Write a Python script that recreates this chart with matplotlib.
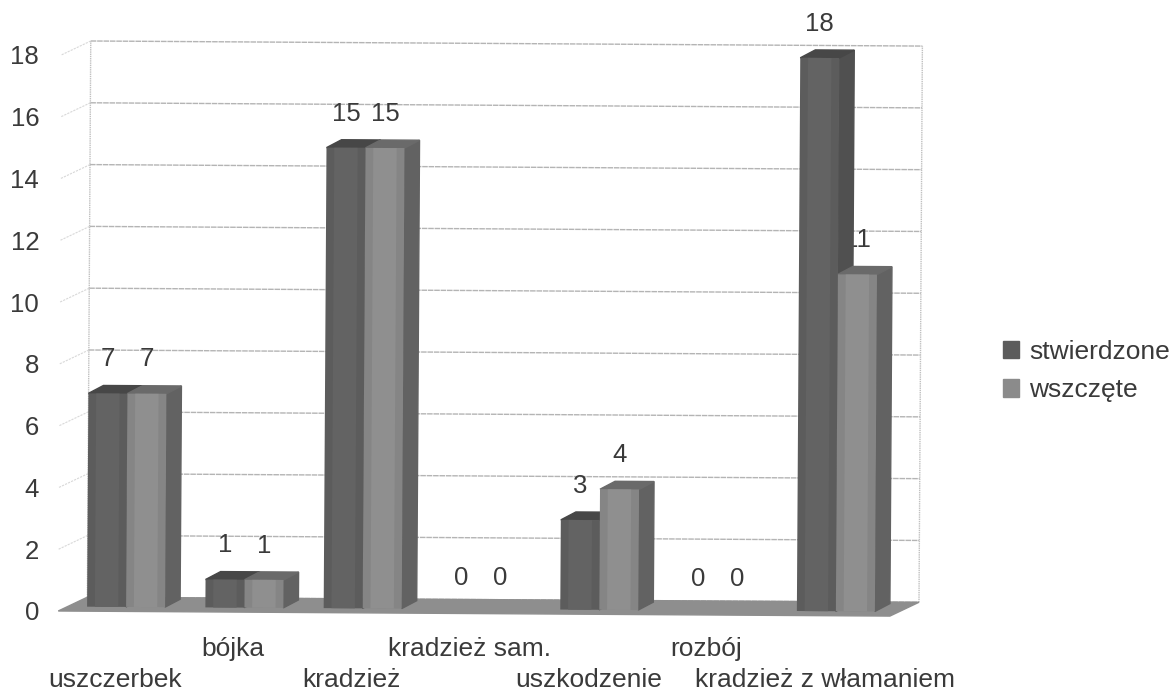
#!/usr/bin/env python3

import matplotlib
matplotlib.use("Agg")
import matplotlib.pyplot as plt
from matplotlib.patches import Patch
from matplotlib.transforms import Affine2D

plt.rcParams["font.family"] = ["Liberation Sans", "DejaVu Sans"]

# === DATA ===
categories = ["uszczerbek", "bójka", "kradzież", "kradzież sam.",
              "uszkodzenie", "rozbój", "kradzież z włamaniem"]
stwierdzone = [7, 1, 15, 0, 3, 0, 18]
wszczete = [7, 1, 15, 0, 4, 0, 11]
y_ticks = [0, 2, 4, 6, 8, 10, 12, 14, 16, 18]

# === PAGE GEOMETRY (pixels of the scan) ===
W, H = 1171, 692
LEFT, RIGHT, BASE, TOP = 55.9, 884.0, 611.0, 54.8
PX_X = (RIGHT - LEFT) / 7.0
PX_Y = (BASE - TOP) / 18.0
TILT = -0.35  # the scan is slightly rotated

fig = plt.figure(figsize=(W / 100, H / 100), dpi=100)
ax = fig.add_axes([LEFT / W, (H - BASE) / H, (RIGHT - LEFT) / W, (BASE - TOP) / H])
ax.set_xlim(-0.5, 6.5)
ax.set_ylim(0, 18)
for s in ax.spines.values():
    s.set_visible(False)
ax.patch.set_alpha(0)

tr = ax.transData + Affine2D().rotate_deg_around(58, H - BASE, TILT)


def dx(px):
    return px / PX_X


def dy(px):
    return px / PX_Y


TEXT = "#3a3a3a"
GRID = "#b4b4b4"
WALL_X, WALL_Y = dx(29), dy(14)
FLOOR_L, FLOOR_R = -0.48, 6.55

# === WALL, GRID, FLOOR ===
for t in y_ticks:
    ax.plot([FLOOR_L + WALL_X, FLOOR_R + WALL_X], [t + WALL_Y, t + WALL_Y], color=GRID,
            lw=1.0, ls=(0, (4, 0.6)), transform=tr, zorder=1, clip_on=False)
    if t > 0:
        ax.plot([FLOOR_L, FLOOR_L + WALL_X], [t, t + WALL_Y], color="#d8d8d8", lw=0.8,
                ls=(0, (2, 1)), transform=tr, zorder=1, clip_on=False)
for x in [FLOOR_L + WALL_X, FLOOR_R + WALL_X]:
    ax.plot([x, x], [WALL_Y, 18 + WALL_Y], color="#c0c0c0", lw=1.0, ls=(0, (1, 0.6)),
            transform=tr, zorder=1, clip_on=False)

ax.fill([FLOOR_L, FLOOR_R, FLOOR_R + WALL_X, FLOOR_L + WALL_X], [0, 0, WALL_Y, WALL_Y],
        color="#8e8e8e", transform=tr, zorder=1.5, clip_on=False)

# === BARS ===
BAR_W = 39 / PX_X
OFF_X, OFF_Y = dx(11), dy(4.5)
DEPTH_X, DEPTH_Y = dx(15), dy(8)
SINK = dy(3)
series = [(stwierdzone, -BAR_W, "#5c5c5c", "#636363", "#505050", "#474747"),
          (wszczete, 0, "#858585", "#8f8f8f", "#626262", "#6a6a6a")]

for i in range(len(categories)):
    for n, (vals, shift, c_front, c_band, c_side, c_top) in enumerate(series):
        v = vals[i]
        x0 = i + OFF_X + shift
        x1 = x0 + BAR_W
        z = 3 + 0.1 * n
        ax.annotate(str(v), xy=((x0 + x1) / 2, v + OFF_Y), xycoords=tr, xytext=(0, 22.5),
                    textcoords="offset points", ha="center", va="center", fontsize=18.5,
                    color=TEXT, zorder=2, annotation_clip=False)
        if v == 0:
            continue
        b = OFF_Y
        t = v + OFF_Y - SINK
        ax.fill([x1, x1 + DEPTH_X, x1 + DEPTH_X, x1], [b, b + DEPTH_Y, t + DEPTH_Y, t],
                color=c_side, transform=tr, zorder=z, clip_on=False)
        ax.fill([x0, x1, x1 + DEPTH_X, x0 + DEPTH_X], [t, t, t + DEPTH_Y, t + DEPTH_Y],
                color=c_top, transform=tr, zorder=z, clip_on=False)
        ax.bar(x0, t - b, width=BAR_W, bottom=b, align="edge", color=c_front, transform=tr,
               zorder=z + 0.01, clip_on=False)
        ax.bar(x0 + 0.2 * BAR_W, t - b, width=0.6 * BAR_W, bottom=b, align="edge", color=c_band,
               transform=tr, zorder=z + 0.02, clip_on=False)

# === AXES TEXT ===
ax.set_yticks(y_ticks)
ax.set_yticklabels([str(t) for t in y_ticks])
ax.set_xticks(range(len(categories)))
ax.set_xticklabels(categories)
ax.tick_params(axis="y", length=0, pad=12, labelsize=18.5, labelcolor=TEXT)
ax.tick_params(axis="x", length=0, labelsize=19, labelcolor=TEXT)
for i, tick in enumerate(ax.xaxis.get_major_ticks()):
    # labels sit on two alternating rows
    tick.set_pad(19 if i % 2 else 41)

# === LEGEND ===
handles = [Patch(color="#5c5c5c", label="stwierdzone"), Patch(color="#8b8b8b", label="wszczęte")]
ax.legend(handles=handles, loc="center left", bbox_to_anchor=(1003 / W, (H - 371) / H),
          bbox_transform=fig.transFigure, frameon=False, fontsize=19, labelcolor=TEXT,
          handlelength=0.62, handleheight=0.62, handletextpad=0.36, labelspacing=0.55,
          borderpad=0, borderaxespad=0)

fig.savefig("out.png", dpi=100)
